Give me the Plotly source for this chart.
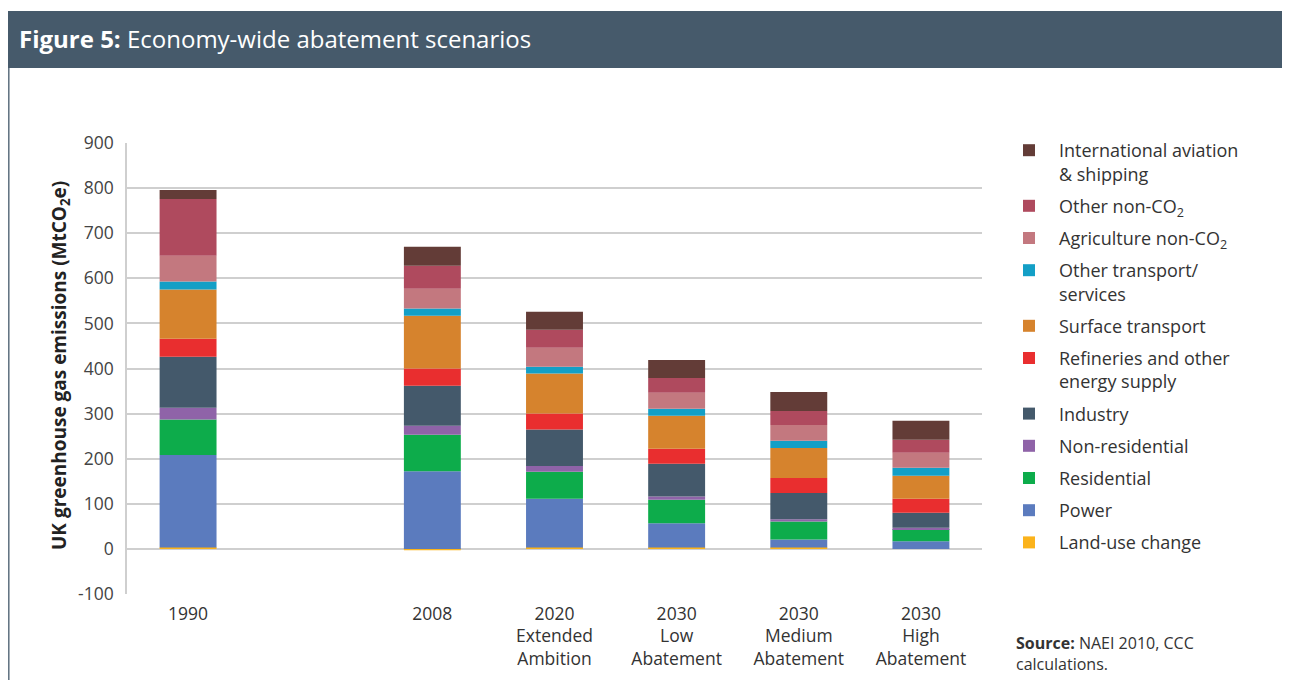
import plotly.graph_objects as go

# ---- data (MtCO2e) ----
categories = ["1990", " ", "2008", "2020<br>Extended<br>Ambition", "2030<br>Low<br>Abatement",
              "2030<br>Medium<br>Abatement", "2030<br>High<br>Abatement"]
bar_categories = ["1990", "2008", "2020<br>Extended<br>Ambition", "2030<br>Low<br>Abatement",
                  "2030<br>Medium<br>Abatement", "2030<br>High<br>Abatement"]

land_use = [3, -3, 3, 3, 3, 0]
power = [205, 172, 108, 54, 18, 17]
residential = [79, 81, 60, 52, 40, 27]
non_residential = [26, 20, 13, 7, 5, 3]
industry = [113, 89, 81, 73, 58, 33]
refineries = [40, 38, 35, 33, 33, 31]
surface_transport = [109, 117, 89, 73, 67, 51]
other_transport = [18, 16, 15, 16, 16, 18]
agriculture_non_co2 = [57, 44, 42, 35, 35, 33]
other_non_co2 = [126, 51, 40, 33, 31, 29]
intl_aviation = [20, 42, 40, 40, 42, 42]

y_tickvals = [-100, 0, 100, 200, 300, 400, 500, 600, 700, 800, 900]
y_ticktext = ["-100", "0", "100", "200", "300", "400", "500", "600", "700", "800", "900"]

series = [
    ("Land-use change", land_use, "#FBB31B"),
    ("Power", power, "#5B7BBE"),
    ("Residential", residential, "#0DAC4B"),
    ("Non-residential", non_residential, "#8F63A8"),
    ("Industry", industry, "#44596B"),
    ("Refineries and other<br>energy supply", refineries, "#E92E2F"),
    ("Surface transport", surface_transport, "#D6832D"),
    ("Other transport/<br>services", other_transport, "#139FC6"),
    ("Agriculture non-CO<sub>2</sub>", agriculture_non_co2, "#C3787F"),
    ("Other non-CO<sub>2</sub>", other_non_co2, "#AF4A5E"),
    ("International aviation<br>& shipping", intl_aviation, "#633C37"),
]

FONT = "Open Sans"

fig = go.Figure()
n = len(series)
for i, (name, vals, col) in enumerate(series):
    fig.add_trace(go.Bar(
        x=bar_categories, y=vals, name=name, legendgroup=f"g{i}", legendrank=100 + (n - i),
        marker=dict(color=col, line=dict(width=0)),
    ))

# the page body adds an 8px margin; work in reference pixels and shift
OFF = 8
W, H = 1290, 680 - OFF
# plot area in reference pixels: x 127..982, y 143..594
L, R, T, B = 127 - OFF, 982 - OFF, 143 - OFF, 594 - OFF
def px(x):
    return (x - OFF - L) / (R - L)
def py(y):
    return (B - (y - OFF)) / (B - T)

fig.update_layout(
    width=W, height=H,
    margin=dict(l=L, r=W - R, t=T, b=H - B, autoexpand=False),
    paper_bgcolor="white", plot_bgcolor="white",
    barmode="relative", bargap=0.534,
    font=dict(family=FONT, color="#333333"),
    showlegend=True,
    legend=dict(
        x=px(999), y=py(132), xanchor="left", yanchor="top",
        traceorder="grouped", tracegroupgap=5.8, maxheight=560,
        font=dict(size=18, color="#333333", family=FONT),
        itemwidth=50, valign="top", bgcolor="rgba(0,0,0,0)",
    ),
    xaxis=dict(
        type="category", categoryorder="array", categoryarray=categories,
        tickmode="array", tickvals=bar_categories, ticktext=bar_categories,
        range=[-0.5, 6.5], showgrid=False, zeroline=False, showline=False,
        ticks="", ticklabelstandoff=7,
        tickfont=dict(size=17.5, color="#333333", family=FONT),
    ),
    yaxis=dict(
        range=[-100, 900], tickvals=y_tickvals, ticktext=y_ticktext, showgrid=True,
        gridcolor="#cfcfcf", gridwidth=1.5, zeroline=True, zerolinecolor="#cfcfcf",
        zerolinewidth=1.5, showline=True, linecolor="#cfcfcf", linewidth=1.5,
        ticks="", ticklabelstandoff=8,
        tickfont=dict(size=17.5, color="#444444", family=FONT),
    ),
)

shapes = [
    dict(type="rect", xref="paper", yref="paper", x0=px(7), x1=px(1300), y0=py(68), y1=py(11),
         fillcolor="#465A6B", line=dict(width=0), layer="below"),
    dict(type="line", xref="paper", yref="paper", x0=px(8.8), x1=px(8.8), y0=py(68), y1=py(682),
         line=dict(color="#5d6f7e", width=1.5)),
]
fig.update_layout(shapes=shapes)

fig.add_annotation(
    xref="paper", yref="paper", x=px(17), y=py(39), xanchor="left", yanchor="middle",
    text="<b>Figure 5:</b> Economy-wide abatement scenarios", showarrow=False,
    font=dict(size=24, color="white", family=FONT),
)
fig.add_annotation(
    xref="paper", yref="paper", x=px(60), y=py(366), xanchor="center", yanchor="middle",
    text="<b>UK greenhouse gas emissions (MtCO<sub>2</sub>e)</b>", textangle=-90, showarrow=False,
    font=dict(size=19, color="#222222", family=FONT),
)
fig.add_annotation(
    xref="paper", yref="paper", x=px(1014), y=py(630), xanchor="left", yanchor="top",
    align="left", text="<b>Source:</b> NAEI 2010, CCC<br>calculations.", showarrow=False,
    font=dict(size=16, color="#333333", family=FONT),
)

fig.write_html("out.html")
